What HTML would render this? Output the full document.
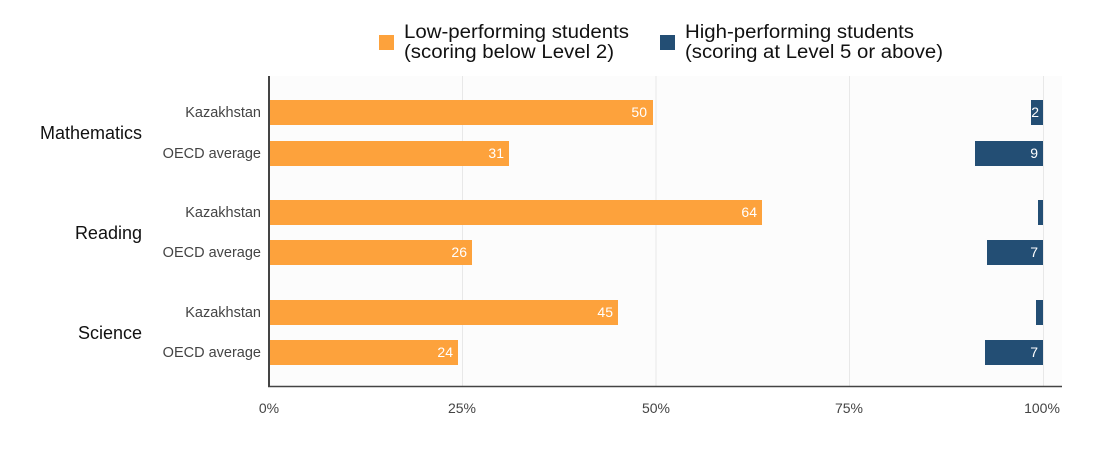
<!DOCTYPE html>
<html><head><style>body{margin:0;background:#fff}svg{display:block}text{font-family:"Liberation Sans",Arial,sans-serif}</style></head>
<body>
<svg width="1103" height="450" viewBox="0 0 1103 450">
<rect x="269" y="76" width="793" height="310" fill="#fcfcfc"/>
<g stroke="#e8e8e8" stroke-width="1">
<line x1="462.5" y1="76" x2="462.5" y2="386"/><line x1="656" y1="76" x2="656" y2="386"/><line x1="849.5" y1="76" x2="849.5" y2="386"/><line x1="1043.5" y1="76" x2="1043.5" y2="386"/>
</g>
<g fill="#fda23c">
<rect x="269" y="100" width="384" height="25"/>
<rect x="269" y="141" width="240" height="25"/>
<rect x="269" y="200" width="493" height="25"/>
<rect x="269" y="240" width="203" height="25"/>
<rect x="269" y="300" width="349" height="25"/>
<rect x="269" y="340" width="189" height="25"/>
</g>
<g fill="#234e74">
<rect x="1031" y="100" width="12" height="25"/>
<rect x="975" y="141" width="68" height="25"/>
<rect x="1038" y="200" width="5" height="25"/>
<rect x="987" y="240" width="56" height="25"/>
<rect x="1036" y="300" width="7" height="25"/>
<rect x="985" y="340" width="58" height="25"/>
</g>
<g fill="#fff" font-size="14" text-anchor="end">
<text x="647" y="117">50</text><text x="504" y="158">31</text><text x="757" y="217">64</text><text x="467" y="257">26</text><text x="613" y="317">45</text><text x="453" y="357">24</text>
<text x="1039" y="117">2</text><text x="1038" y="158">9</text><text x="1038" y="257">7</text><text x="1038" y="357">7</text>
</g>
<line x1="269" y1="76" x2="269" y2="387" stroke="#444" stroke-width="2"/>
<line x1="268" y1="386.5" x2="1062" y2="386.5" stroke="#444" stroke-width="1.5"/>
<g fill="#444" font-size="14.5" text-anchor="end">
<text x="261" y="117">Kazakhstan</text><text x="261" y="158">OECD average</text>
<text x="261" y="217">Kazakhstan</text><text x="261" y="257">OECD average</text>
<text x="261" y="317">Kazakhstan</text><text x="261" y="357">OECD average</text>
</g>
<g fill="#111" font-size="18" text-anchor="end">
<text x="142" y="139">Mathematics</text><text x="142" y="239">Reading</text><text x="142" y="339">Science</text>
</g>
<g fill="#444" font-size="14" text-anchor="middle">
<text x="269" y="413">0%</text><text x="462" y="413">25%</text><text x="656" y="413">50%</text><text x="849" y="413">75%</text><text x="1042" y="413">100%</text>
</g>
<rect x="379" y="35" width="15" height="15" fill="#fda23c"/>
<rect x="660" y="35" width="15" height="15" fill="#234e74"/>
<g fill="#111" font-size="19">
<text x="404" y="38" textLength="225" lengthAdjust="spacingAndGlyphs">Low-performing students</text><text x="404" y="58" textLength="210" lengthAdjust="spacingAndGlyphs">(scoring below Level 2)</text>
<text x="685" y="38" textLength="229" lengthAdjust="spacingAndGlyphs">High-performing students</text><text x="685" y="58" textLength="258" lengthAdjust="spacingAndGlyphs">(scoring at Level 5 or above)</text>
</g>
</svg>
</body></html>
